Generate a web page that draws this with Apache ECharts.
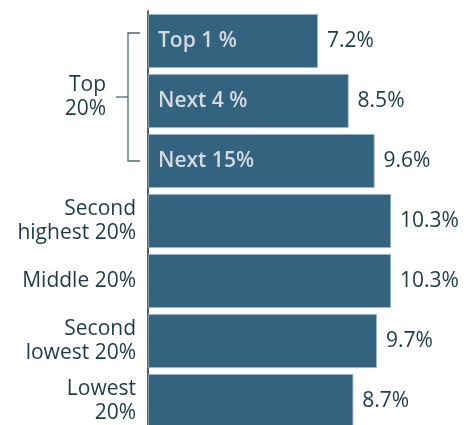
<!DOCTYPE html>
<html><head><meta charset="utf-8">
<script src="https://cdn.jsdelivr.net/npm/echarts@6/dist/echarts.min.js"></script>
<style>html,body{margin:0;padding:0;background:#fff}#c{width:474px;height:425px}</style>
</head><body><div id="c"></div>
<script>
const categories = ["Top 1 %", "Next 4 %", "Next 15%", "Second\nhighest 20%", "Middle 20%", "Second\nlowest 20%", "Lowest\n20%"];
const axisLabels = ["", "", "", "Second\nhighest 20%", "Middle 20%", "Second\nlowest 20%", "Lowest\n20%"];
const innerLabels = ["Top 1 %", "Next 4 %", "Next 15%", "", "", "", ""];
const values = [7.2, 8.5, 9.6, 10.3, 10.3, 9.7, 8.7];
const groupLabel = "Top\n20%";

const FONT = "'Open Sans', sans-serif";
const chart = echarts.init(document.getElementById('c'));
chart.setOption({
  animation: false,
  grid: { left: 148, top: 11, width: 283.2, height: 420, outerBoundsMode: 'none', containLabel: false },
  xAxis: { type: 'value', min: 0, max: 12, show: false },
  yAxis: {
    type: 'category', data: categories, inverse: true,
    axisLine: { show: true, lineStyle: { color: '#222', width: 1.5 } },
    axisTick: { show: false },
    axisLabel: {
      formatter: (v, i) => axisLabels[i],
      margin: 12, fontFamily: FONT, fontSize: 21, lineHeight: 24,
      color: '#1e3a44', align: 'right'
    }
  },
  series: [
    {
      type: 'bar', data: values, barCategoryGap: '10%',
      itemStyle: { color: '#33637f', borderColor: '#9fb6c4', borderWidth: 0.8 },
      label: {
        show: true, position: 'right', distance: 9,
        formatter: p => p.value.toFixed(1) + '%',
        fontFamily: FONT, fontSize: 21, color: '#1e3a44'
      },
      z: 2
    },
    {
      type: 'bar', data: values, barGap: '-100%', barCategoryGap: '10%',
      itemStyle: { color: 'transparent' },
      label: {
        show: true, position: 'insideLeft', distance: 10,
        formatter: p => innerLabels[p.dataIndex],
        fontFamily: FONT, fontSize: 21, fontWeight: 600, color: '#d3dbe0'
      },
      z: 3, silent: true
    }
  ]
});

function drawBracket() {
  const yTop = chart.convertToPixel({ yAxisIndex: 0 }, categories[0]) - 8;
  const yBot = chart.convertToPixel({ yAxisIndex: 0 }, categories[2]);
  const yMid = (yTop + yBot) / 2;
  const xV = 128, xR = 140, xL = 116;
  const st = { stroke: '#4f6a76', lineWidth: 1.3 };
  chart.setOption({
    graphic: [
      { type: 'polyline', shape: { points: [[xR, yTop], [xV, yTop], [xV, yBot], [xR, yBot]] }, style: Object.assign({ fill: null }, st) },
      { type: 'line', shape: { x1: xL, y1: yMid, x2: xV, y2: yMid }, style: st },
      { type: 'text', x: 106, y: yMid, style: { text: groupLabel, font: '21px ' + FONT, fill: '#1e3a44', align: 'right', verticalAlign: 'middle', lineHeight: 24 } }
    ]
  });
}
drawBracket();
</script></body></html>
